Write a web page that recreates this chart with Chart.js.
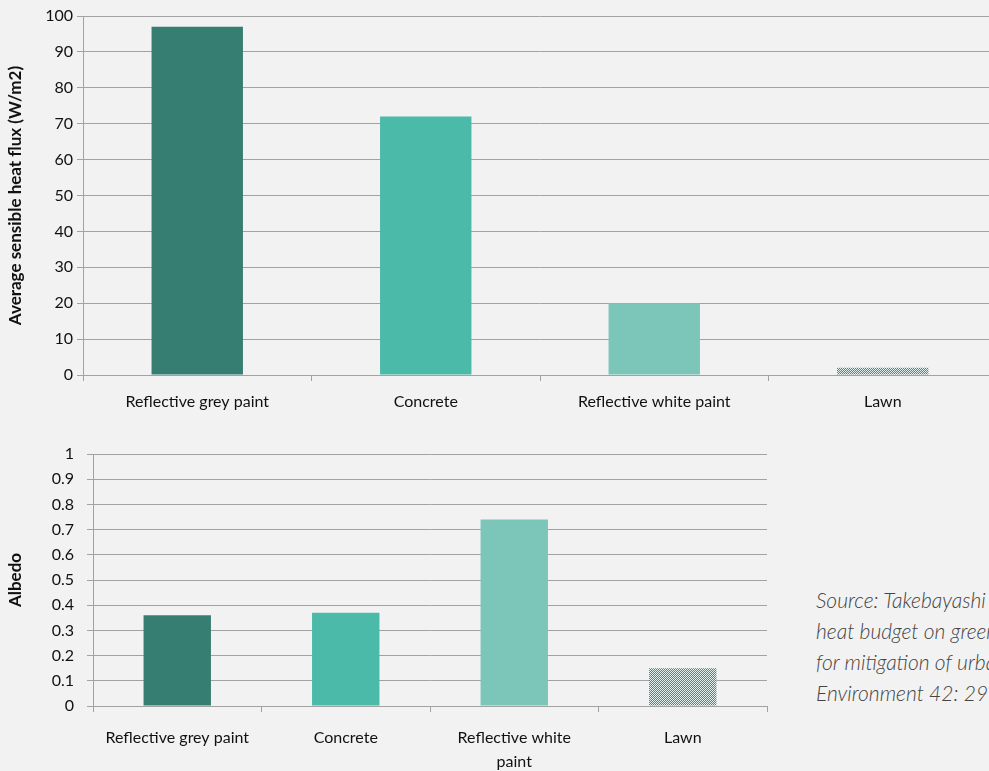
<!DOCTYPE html>
<html>
<head>
<meta charset="utf-8">
<script src="https://cdn.jsdelivr.net/npm/chart.js@4.4.1/dist/chart.umd.min.js"></script>
<style>
    body { margin: 0; background: #f2f2f2; overflow: hidden; width: 989px; height: 771px; position: relative; }
    #chartFlux { position: absolute; left: 0; top: 0; }
    #chartAlbedo { position: absolute; left: 0; top: 420px; }
    #source { position: absolute; left: 816px; top: 584px; font: italic 300 21px Lato, sans-serif; line-height: 31px; color: #444; white-space: nowrap; }
</style>
</head>
<body>
<canvas id="chartFlux" width="1000" height="420"></canvas>
<canvas id="chartAlbedo" width="780" height="351"></canvas>
<div id="source">Source: Takebayashi H, Moriyama M (2007) Surface<br>heat budget on green roof and high reflection roof<br>for mitigation of urban heat island. Building and<br>Environment 42: 2971–2979</div>
<script>
// datos
const categories = ['Reflective grey paint', 'Concrete', 'Reflective white paint', 'Lawn'];
const albedoLabels = ['Reflective grey paint', 'Concrete', ['Reflective white', 'paint'], 'Lawn'];
const heatFlux = [97, 72, 20, 2];
const albedo = [0.36, 0.37, 0.74, 0.15];
const fluxTicks = { min: 0, max: 100, step: 10 };
const albedoTicks = { min: 0, max: 1, step: 0.1 };

const gridColor = '#a2a2a2';
const textColor = '#111';

// trama de cuadritos para "Lawn"
const makeLawnPattern = (ctx) => {
    const c = document.createElement('canvas');
    c.width = 2;
    c.height = 2;
    const g = c.getContext('2d');
    g.fillStyle = '#3a9084';
    g.fillRect(0, 0, 2, 2);
    g.fillStyle = '#e4f2ef';
    g.fillRect(0, 0, 1, 1);
    g.fillRect(1, 1, 1, 1);
    return ctx.createPattern(c, 'repeat');
};

const buildChart = (canvas, labels, values, ticks, opts) => {
    const ctx = canvas.getContext('2d');
    const colors = ['#367e72', '#4bbaa9', '#7bc6b9', makeLawnPattern(ctx)];
    return new Chart(ctx, {
        type: 'bar',
        data: {
            labels: labels,
            datasets: [{
                data: values,
                backgroundColor: colors,
                borderWidth: 0,
                barPercentage: 0.4,
                categoryPercentage: 1
            }]
        },
        options: {
            responsive: false,
            animation: false,
            layout: { padding: opts.padding },
            plugins: { legend: { display: false }, tooltip: { enabled: false } },
            scales: {
                x: {
                    afterFit: s => { s.height = opts.xHeight; },
                    grid: { drawOnChartArea: false, color: gridColor, tickLength: 6, offset: true },
                    border: { color: gridColor, width: 1 },
                    ticks: {
                        color: textColor,
                        padding: opts.xPad,
                        maxRotation: 0,
                        autoSkip: false,
                        font: { family: 'Lato', size: 16, lineHeight: opts.xLine }
                    }
                },
                y: {
                    min: ticks.min,
                    max: ticks.max,
                    afterFit: s => { s.width = opts.yWidth; },
                    grid: { color: gridColor, tickLength: 6 },
                    border: { color: gridColor, width: 1 },
                    ticks: {
                        stepSize: ticks.step,
                        color: textColor,
                        padding: opts.yPad,
                        font: { family: 'Lato', size: 16 },
                        callback: v => String(Math.round(v * 10) / 10)
                    },
                    title: {
                        display: true,
                        text: opts.title,
                        color: textColor,
                        padding: { top: 5, bottom: 0 },
                        font: { family: 'Lato', size: 17, weight: 'bold' }
                    }
                }
            }
        }
    });
};

buildChart(document.getElementById('chartFlux'), categories, heatFlux, fluxTicks, {
    padding: { top: 16, right: 3, left: 0, bottom: 0 },
    xHeight: 45, xPad: 11, xLine: 1.2, yWidth: 83, yPad: 4,
    title: 'Average sensible heat flux (W/m2)'
});

buildChart(document.getElementById('chartAlbedo'), albedoLabels, albedo, albedoTicks, {
    padding: { top: 34, right: 13, left: 0, bottom: 0 },
    xHeight: 65, xPad: 14, xLine: 1.5, yWidth: 93, yPad: 13,
    title: 'Albedo'
});
</script>
</body>
</html>
